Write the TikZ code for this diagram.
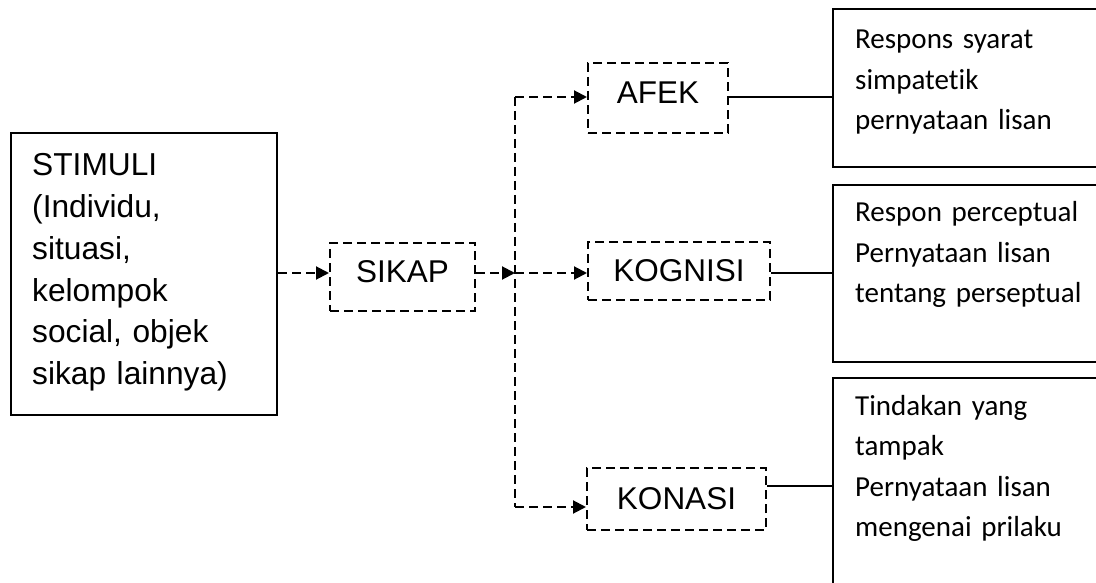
\documentclass[tikz,border=0pt]{standalone}
\usepackage{fontspec}
\setmainfont{Liberation Sans}
\newfontfamily\calibri[Ligatures=NoCommon]{Carlito}
\usetikzlibrary{arrows.meta}
\begin{document}
\begin{tikzpicture}[x=1pt,y=-1pt,
  lw/.style={line width=2pt},
  dashbox/.style={draw, lw, dash pattern=on 9pt off 5pt, inner sep=0pt, font=\fontsize{31.5}{36}\selectfont},
  solidbox/.style={draw, lw, inner sep=0pt},
  dline/.style={lw, dash pattern=on 9pt off 5pt},
  darrow/.style={dline, -{Triangle[length=13pt,width=13pt]}},
  sline/.style={lw},
  stext/.style={anchor=base west, inner sep=0pt, text width=240pt, align=left, font=\fontsize{31.7}{41.7}\selectfont},
  rtext/.style={anchor=base west, inner sep=0pt, text width=240pt, align=left, font=\calibri\fontsize{29}{40.5}\selectfont}
]
\useasboundingbox (0,0) rectangle (1096,583);
\fill[white] (0,0) rectangle (1096,583);
\clip (0,0) rectangle (1096,583);

% left box
\node[solidbox, minimum width=266pt, minimum height=282pt] (stim) at (144,274) {};
\node[stext] (stimtext) at (32,176) {STIMULI\\(Individu,\\situasi,\\kelompok\\social, objek\\sikap lainnya)};

% dashed boxes
\node[dashbox, minimum width=145pt, minimum height=68pt, text depth=10pt] (sikap) at (402.5,277) {SIKAP};
\node[dashbox, minimum width=140pt, minimum height=70pt, text depth=10pt] (afek) at (658,98) {AFEK};
\node[dashbox, minimum width=182pt, minimum height=58pt] (kognisi) at (679,271) {KOGNISI};
\node[dashbox, minimum width=179pt, minimum height=62pt] (konasi) at (676.5,499) {KONASI};

% right boxes
\node[solidbox, minimum width=277pt, minimum height=158pt] (r1) at (971.5,88) {};
\node[solidbox, minimum width=277pt, minimum height=177pt] (r2) at (971.5,273.5) {};
\node[solidbox, minimum width=277pt, minimum height=222pt] (r3) at (971.5,489) {};
\node[rtext] (t1) at (855,49) {Respons syarat\\simpatetik\\pernyataan lisan};
\node[rtext] (t2) at (855,222) {Respon perceptual\\Pernyataan lisan\\tentang perseptual};
\node[rtext] (t3) at (855,415) {Tindakan yang\\tampak\\Pernyataan lisan\\mengenai prilaku};

% junction coordinates
\coordinate (j) at (515,273);
\coordinate (ja) at (515,97);
\coordinate (jk) at (515,507);
\coordinate (kl) at (0,486);

% dashed connectors
\draw[darrow] (stim.east |- j) -- (sikap.west |- j);
\draw[darrow] (sikap.east |- j) -- (j);
\draw[dline] (ja) -- (jk);
\draw[darrow] (ja) -- (ja -| afek.west);
\draw[darrow] (j) -- (j -| kognisi.west);
\draw[darrow] (jk) -- (jk -| konasi.west);

% solid connectors
\draw[sline] (afek.east |- ja) -- (r1.west |- ja);
\draw[sline] (kognisi.east |- j) -- (r2.west |- j);
\draw[sline] (konasi.east |- kl) -- (r3.west |- kl);
\end{tikzpicture}
\end{document}
